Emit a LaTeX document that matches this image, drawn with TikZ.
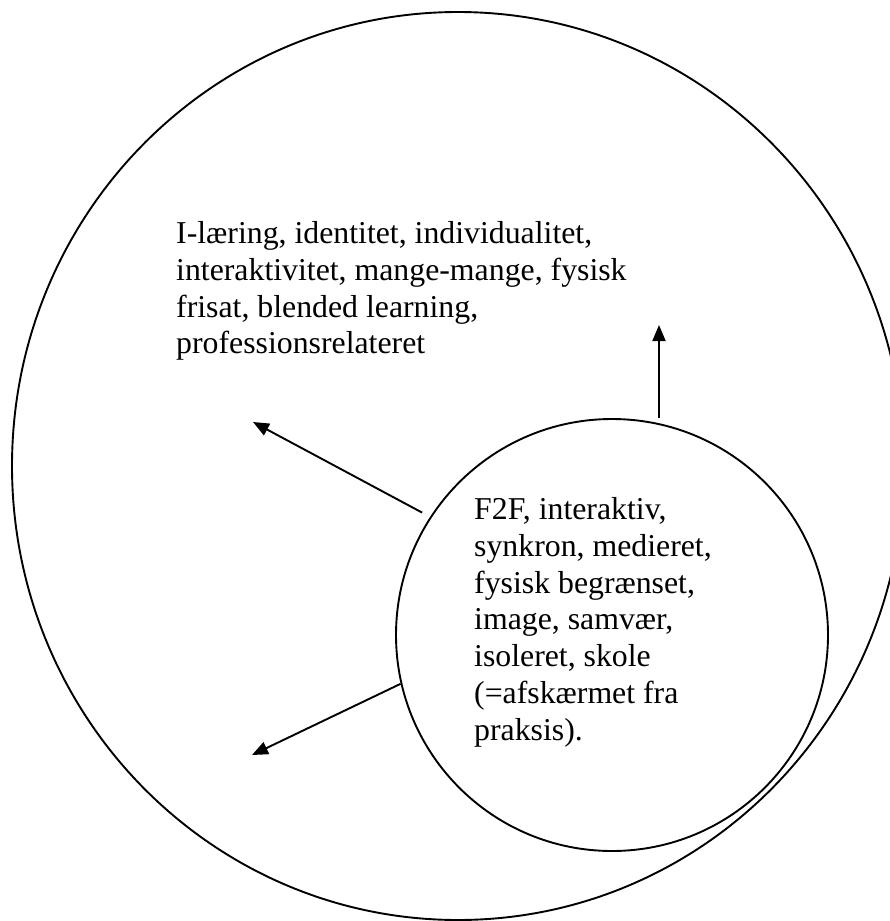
\documentclass[tikz,border=0pt]{standalone}
\usepackage{fontspec}
\setmainfont{Liberation Serif}
\usetikzlibrary{shapes, arrows.meta}

\begin{document}
\begin{tikzpicture}[x=1pt, y=-1pt, >={Triangle[length=16pt,width=13pt]}]

        % Define block styles
        \tikzstyle{ring} = [draw, line width=1.9pt, inner sep=0pt]
        \tikzstyle{words} = [align=left, anchor=north west, inner sep=0pt, font=\fontsize{31.8}{36.8}\selectfont]
        \tikzstyle{arrow} = [line width=1.9pt, ->]

        \useasboundingbox (0,0) rectangle (890,921);

        % Circles
        \node (outer) [ring, ellipse, minimum width=892pt, minimum height=908pt] at (458,466) {};
        \node (inner) [ring, circle, minimum size=432pt] at (612,635) {};

        % Labels
        \node (outerText) [words] at (176,221.3) {I-læring, identitet, individualitet,\\ interaktivitet, mange-mange, fysisk\\ frisat, blended learning,\\ professionsrelateret};
        \node (innerText) [words] at (474,497.3) {F2F, interaktiv,\\ synkron, medieret,\\ fysisk begrænset,\\ image, samvær,\\ isoleret, skole\\ (=afskærmet fra\\ praksis).};

        % Arrow ends
        \coordinate (upTip) at (659,325);
        \coordinate (ulTip) at (253,422);
        \coordinate (llTip) at (252,755);

        % Arrows
        \draw [arrow] (upTip |- inner.north) -- (upTip);
        \draw [arrow, shorten <=9pt] (inner.147) -- (ulTip);
        \draw [arrow] (inner.193) -- (llTip);

\end{tikzpicture}
\end{document}
